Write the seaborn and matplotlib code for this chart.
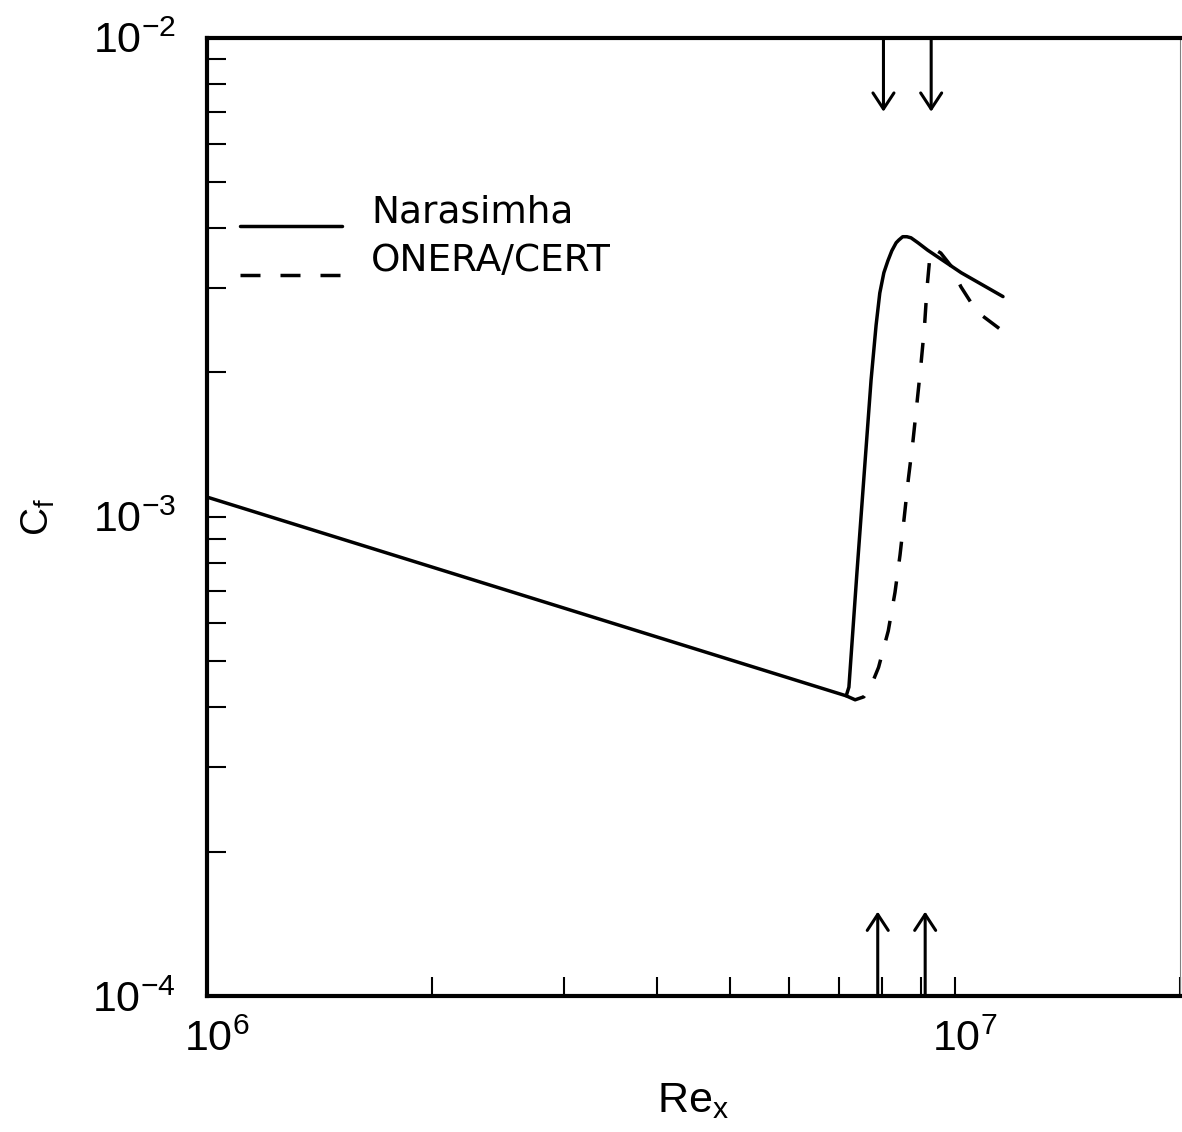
import numpy as np
import matplotlib
matplotlib.use("Agg")
import matplotlib.pyplot as plt
from matplotlib.ticker import FixedLocator, LogLocator, NullFormatter
from matplotlib.legend_handler import HandlerLine2D
from matplotlib.transforms import ScaledTranslation
import seaborn as sns

# Skin friction along the plate: Narasimha intermittency model
re_narasimha = [1.0e6, 7.16e6, 7.22e6, 7.40e6, 7.59e6, 7.73e6, 7.85e6, 7.94e6, 8.04e6,
                8.14e6, 8.24e6, 8.35e6, 8.42e6, 8.52e6, 8.63e6, 8.74e6, 8.93e6, 9.20e6,
                1.02e7, 1.16e7]
cf_narasimha = [1.10e-3, 4.23e-4, 4.41e-4, 7.63e-4, 1.31e-3, 1.93e-3, 2.51e-3, 2.93e-3, 3.23e-3,
                3.42e-3, 3.59e-3, 3.73e-3, 3.78e-3, 3.84e-3, 3.84e-3, 3.82e-3, 3.73e-3, 3.60e-3,
                3.23e-3, 2.88e-3]

# ONERA/CERT transition model (leaves the laminar branch at the same point)
re_onera = [7.16e6, 7.36e6, 7.56e6, 7.73e6, 7.91e6, 8.15e6, 8.32e6, 8.45e6, 8.56e6,
            8.67e6, 8.79e6, 8.90e6, 9.01e6, 9.11e6, 9.18e6, 9.26e6, 9.38e6, 9.58e6,
            9.88e6, 1.019e7, 1.070e7, 1.155e7]
cf_onera = [4.23e-4, 4.15e-4, 4.21e-4, 4.44e-4, 4.85e-4, 5.78e-4, 6.95e-4, 8.32e-4, 9.97e-4,
            1.20e-3, 1.43e-3, 1.72e-3, 2.07e-3, 2.49e-3, 2.99e-3, 3.47e-3, 3.62e-3, 3.55e-3,
            3.34e-3, 3.02e-3, 2.68e-3, 2.45e-3]

labels = ["Narasimha", "ONERA/CERT"]

# Transition markers: end (top) and onset (bottom) locations
re_arrows_top = [8.03e6, 9.30e6]
re_arrows_bottom = [7.89e6, 9.13e6]
cf_arrow_top_tip = 7.0e-3
cf_arrow_bottom_tip = 1.5e-4

re_limits = (1e6, 2e7)
cf_limits = (1e-4, 1e-2)

sns.set_theme(style="ticks")
plt.rcParams["font.family"] = ["Liberation Sans", "DejaVu Sans"]
plt.rcParams["mathtext.fontset"] = "custom"
plt.rcParams["mathtext.rm"] = "Liberation Sans"
plt.rcParams["mathtext.it"] = "Liberation Sans:italic"
plt.rcParams["mathtext.default"] = "regular"
plt.rcParams["lines.scale_dashes"] = False
for key in ["text.color", "axes.labelcolor", "xtick.color", "ytick.color",
            "xtick.labelcolor", "ytick.labelcolor", "axes.edgecolor"]:
    plt.rcParams[key] = "black"


class BaselineLineHandler(HandlerLine2D):
    """Legend key drawn level with the label's baseline instead of its middle."""

    def __init__(self, drop=0.47, **kw):
        super().__init__(**kw)
        self.drop = drop

    def create_artists(self, legend, orig_handle, xdescent, ydescent, width, height,
                       fontsize, trans):
        artists = super().create_artists(legend, orig_handle, xdescent, ydescent,
                                         width, height, fontsize, trans)
        for a in artists:
            a.set_ydata(np.asarray(a.get_ydata(), dtype=float) - self.drop * fontsize)
        return artists


W, H = 1182, 1132
fig = plt.figure(figsize=(W / 100, H / 100), dpi=100)
fig.patch.set_facecolor("white")
ax = fig.add_axes([206.5 / W, 1 - 996 / H, (1180 - 206.5) / W, (996 - 37.5) / H])
ax.set_facecolor("white")
ax.set_xscale("log")
ax.set_yscale("log")

lw = 2.5
sns.lineplot(x=re_narasimha, y=cf_narasimha, ax=ax, color="black", linewidth=lw,
             sort=False, estimator=None, label=labels[0])
sns.lineplot(x=re_onera, y=cf_onera, ax=ax, color="black", linewidth=lw,
             linestyle=(0, (14.4, 14.4)), sort=False, estimator=None, label=labels[1])

arrow_kw = dict(arrowstyle="->,head_length=0.64,head_width=0.42", color="black",
                lw=2.2, shrinkA=0, shrinkB=0, mutation_scale=18)
for xr in re_arrows_top:
    ax.annotate("", xy=(xr, cf_arrow_top_tip), xytext=(xr, cf_limits[1]),
                arrowprops=arrow_kw)
for xr in re_arrows_bottom:
    ax.annotate("", xy=(xr, cf_arrow_bottom_tip), xytext=(xr, cf_limits[0]),
                arrowprops=arrow_kw)

ax.set_xlim(*re_limits)
ax.set_ylim(*cf_limits)

ax.xaxis.set_major_locator(FixedLocator([1e6, 1e7]))
ax.xaxis.set_minor_locator(LogLocator(base=10, subs=range(2, 10)))
ax.xaxis.set_minor_formatter(NullFormatter())
ax.yaxis.set_major_locator(FixedLocator([1e-4, 1e-3, 1e-2]))
ax.yaxis.set_minor_locator(LogLocator(base=10, subs=range(2, 10)))
ax.yaxis.set_minor_formatter(NullFormatter())

ax.tick_params(which="both", direction="in", length=13.5, width=1.5, color="black",
               top=False, right=False)
ax.tick_params(axis="x", which="major", labelsize=31, pad=17)
ax.tick_params(axis="y", which="major", labelsize=31, pad=22)

# decade labels on the Re axis sit a little right of their ticks
shift = ScaledTranslation(10 / 100, 0, fig.dpi_scale_trans)
for tick in ax.xaxis.get_major_ticks():
    tick.label1.set_transform(tick.label1.get_transform() + shift)

for side in ["left", "bottom", "top"]:
    ax.spines[side].set_linewidth(3)
    ax.spines[side].set_color("black")
ax.spines["right"].set_linewidth(0.8)
ax.spines["right"].set_color("0.5")

ax.set_xlabel(r"$\mathregular{Re_x}$", fontsize=31)
ax.set_ylabel(r"$\mathregular{C_f}$", fontsize=28)
ax.xaxis.set_label_coords(0.5, -0.089)
ax.yaxis.set_label_coords(-0.154, 0.5)

handles, labs = ax.get_legend_handles_labels()
ax.legend(handles, labs, loc="upper left", bbox_to_anchor=(0.0344, 0.836),
          frameon=False, prop={"family": ["DejaVu Sans"], "size": 27},
          handlelength=2.72, handletextpad=0.78,
          labelspacing=0.33, borderpad=0, borderaxespad=0,
          handler_map={type(handles[0]): BaselineLineHandler(drop=0.45)})

fig.savefig("out.png", dpi=100, facecolor="white")
